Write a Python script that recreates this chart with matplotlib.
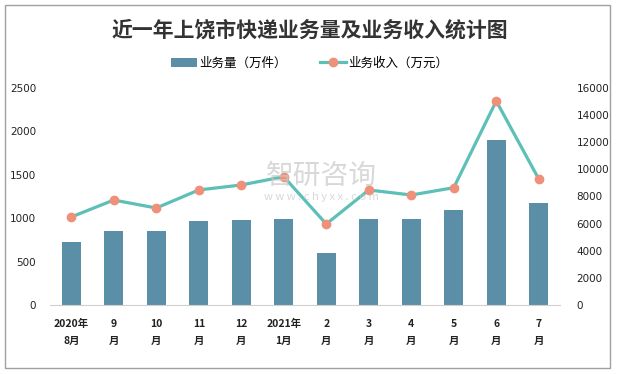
import matplotlib.pyplot as plt
from matplotlib.patches import Rectangle

plt.rcParams['font.family'] = ['Noto Sans CJK SC', 'DejaVu Sans']

months = ["2020年\n8月", "9\n月", "10\n月", "11\n月", "12\n月", "2021年\n1月",
          "2\n月", "3\n月", "4\n月", "5\n月", "6\n月", "7\n月"]
volume = [725, 853, 853, 969, 980, 992, 598, 992, 992, 1096, 1906, 1177]
income = [6490, 7740, 7150, 8480, 8850, 9460, 5970, 8480, 8110, 8650, 15040, 9290]

fig = plt.figure(figsize=(6.19, 3.74), dpi=100)
fig.patches.append(Rectangle((0.008, 0.016), 0.978, 0.97, transform=fig.transFigure,
                             fill=False, edgecolor='#a0a0a0', linewidth=1))

ax = fig.add_axes([50/619, 1-305/374, 510/619, 217/374])
ax2 = ax.twinx()

x = range(len(months))
ax.bar(x, volume, width=0.45, color='#5b8fa7', label='业务量（万件）', zorder=2)
ax2.plot(x, income, color='#5cc0b7', linewidth=2.3, marker='o', markersize=6,
         markerfacecolor='#ef907a', markeredgecolor='#ef907a', label='业务收入（万元）', zorder=3)

ax.set_xlim(-0.5, 11.5)
ax.set_ylim(0, 2500)
ax2.set_ylim(0, 16000)
ax.set_yticks(range(0, 2501, 500))
ax2.set_yticks(range(0, 16001, 2000))
ax.set_xticks(list(x))
ax.set_xticklabels(months, fontsize=9.5, fontweight='bold', linespacing=1.9, color='#222222')

for a in (ax, ax2):
    for s in a.spines.values():
        s.set_visible(False)
    a.tick_params(length=0, labelsize=7.5, colors='#222222')
ax.spines['bottom'].set_visible(True)
ax.spines['bottom'].set_color('#d0d0d0')
ax.tick_params(axis='y', pad=10)
ax2.tick_params(axis='y', pad=12)
ax.tick_params(axis='x', pad=10)
for lab in ax.get_yticklabels() + ax2.get_yticklabels():
    lab.set_family('DejaVu Sans')

fig.text(0.5, 1-30/374, '近一年上饶市快递业务量及业务收入统计图', ha='center', va='center',
         fontsize=15, fontweight='bold', color='#333333')

h1, l1 = ax.get_legend_handles_labels()
h2, l2 = ax2.get_legend_handles_labels()
fig.legend(h1 + h2, l1 + l2, loc='center', bbox_to_anchor=(0.5, 1-63/374), ncol=2,
           frameon=False, fontsize=9, handlelength=2.1, columnspacing=2.6, handletextpad=0.2)

fig.text(0.52, 1-176/374, '智研咨询', ha='center', va='center', fontsize=20,
         color='#c8c8c8', alpha=0.7, zorder=1)
fig.text(0.52, 1-197/374, 'w w w . c h y x x . c o m', ha='center', va='center', fontsize=8,
         color='#c8c8c8', alpha=0.7, zorder=1)

fig.savefig('out.png', dpi=100)
